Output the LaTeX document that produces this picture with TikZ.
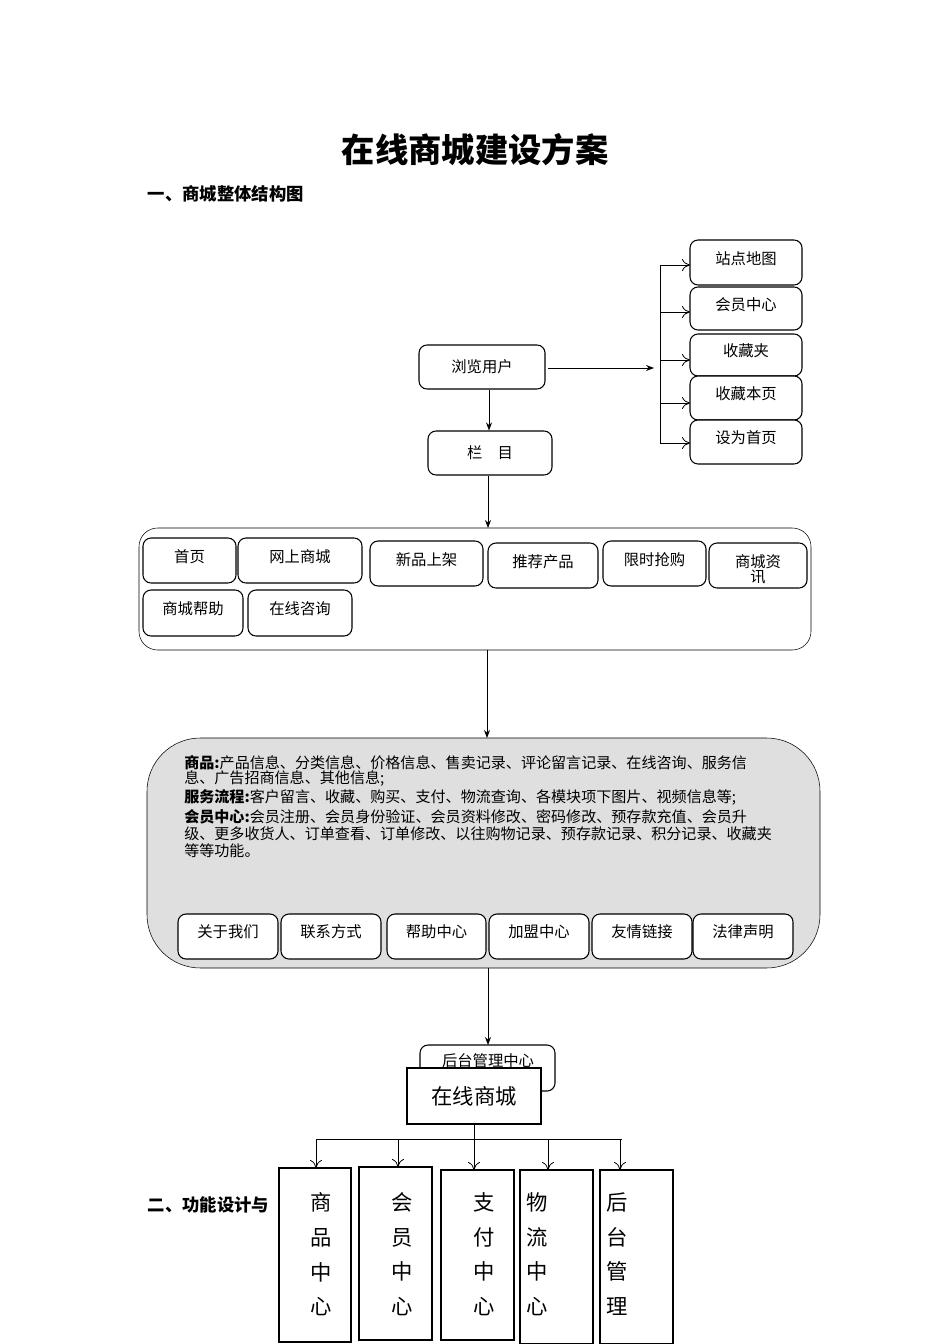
\documentclass[tikz,border=0pt]{standalone}
\usepackage{fontspec}
\setmainfont{Noto Sans CJK SC}
\usetikzlibrary{arrows.meta}
\begin{document}
\begin{tikzpicture}[x=0.75pt,y=-0.75pt,
 rb/.style={draw,rounded corners=6pt,thick,fill=white},
 lbl/.style={font=\fontsize{11.5}{13}\selectfont},
 ar/.style={-{Stealth[length=6pt]},semithick},
 op/.style={-{To[length=6pt,width=9pt]},semithick},
 big/.style={font=\fontsize{16}{26}\selectfont}]
\useasboundingbox (0,0) rectangle (950,1344);
\node[font=\bfseries\fontsize{25}{28}\selectfont] (title) at (475,150) {在线商城建设方案};
\node[font=\bfseries\fontsize{13}{15}\selectfont,anchor=west] (h1) at (143,194) {一、商城整体结构图};
% right boxes
\foreach \n/\t/\a/\b in {s1/站点地图/240/285,s2/会员中心/287/330,s3/收藏夹/334/376,s4/收藏本页/376/420,s5/设为首页/420/464}{
 \draw[rb] (690,\a) rectangle (802,\b);
 \node[lbl] (\n) at (746,{(\a+\b)/2-4}) {\t};
 \coordinate (\n w) at (690,{(\a+\b)/2});
}
\coordinate (bt) at (660,265); \coordinate (bb) at (660,443);
\draw[semithick] (bt) -- (bb);
\foreach \y/\n in {265/s1,312/s2,360/s3,403/s4,443/s5}{ \coordinate (c\n) at (660,\y); \draw[op] (c\n) -- (690,\y); }
\node[rb,draw,minimum width=126*0.75pt,minimum height=44*0.75pt,lbl] (user) at (482,367) {浏览用户};
\coordinate (bm) at (654,368);
\draw[ar] (548,368) -- (bm);
\node[rb,minimum width=124*0.75pt,minimum height=44*0.75pt,lbl] (lm) at (490,453) {栏\quad 目};
\draw[ar] (user.south -| 489,0) -- (lm.north -| 489,0);
% big rounded rect
\draw[rounded corners=14pt,thin] (139,528) rectangle (811,650);
\coordinate (bigtop) at (488,528);
\draw[ar] (lm.south -| 488,0) -- (bigtop);
\foreach \n/\t/\xa/\xb/\ya/\yb in {a1/首页/143/236/538/583,a2/网上商城/238/362/538/583,a3/新品上架/370/483/541/586,a4/推荐产品/488/598/543/588,a5/限时抢购/603/706/541/586,a7/商城帮助/143/243/590/636,a8/在线咨询/248/352/590/636}{
 \draw[rb] (\xa,\ya) rectangle (\xb,\yb);
 \node[lbl] (\n) at ({(\xa+\xb)/2},{\ya+19}) {\t};
}
\draw[rb] (709,543) rectangle (807,588);
\node[lbl,align=center,font=\fontsize{11.5}{11}\selectfont] (a6) at (758,569) {商城资\\讯};
% gray block
\draw[rounded corners=40pt,thin,fill=gray!25] (147,738) rectangle (820,968);
\coordinate (graytop) at (487,738);
\draw[ar] (487,650) -- (graytop);
\begin{scope}[every node/.style={anchor=west,font=\fontsize{11.3}{12}\selectfont,inner sep=0}]
\node (g1) at (184,763) {\textbf{商品:}产品信息、分类信息、价格信息、售卖记录、评论留言记录、在线咨询、服务信};
\node (g2) at (184,779) {息、广告招商信息、其他信息;};
\node (g3) at (184,797) {\textbf{服务流程:}客户留言、收藏、购买、支付、物流查询、各模块项下图片、视频信息等;};
\node (g4) at (184,817) {\textbf{会员中心:}会员注册、会员身份验证、会员资料修改、密码修改、预存款充值、会员升};
\node (g5) at (184,834) {级、更多收货人、订单查看、订单修改、以往购物记录、预存款记录、积分记录、收藏夹};
\node (g6) at (184,851) {等等功能。};
\end{scope}
\foreach \n/\t/\xa/\xb in {b1/关于我们/178/278,b2/联系方式/281/381,b3/帮助中心/387/486,b4/加盟中心/489/589,b5/友情链接/592/692,b6/法律声明/693/793}{
 \draw[rb] (\xa,914) rectangle (\xb,959);
 \node[lbl] (\n) at ({(\xa+\xb)/2},932) {\t};
}
% bottom
\draw[rb] (420,1045) rectangle (555,1091);
\node[lbl,anchor=north] (ht) at (488,1049) {后台管理中心};
\coordinate (httop) at (488,1045);
\draw[ar] (488,968) -- (httop);
\node[draw,thick,fill=white,minimum width=134*0.75pt,minimum height=56*0.75pt,font=\fontsize{16}{18}\selectfont] (zx) at (474,1096) {在线商城};
\coordinate (j) at (474,1139);
\draw[semithick] (zx.south) -- (j);
\draw[semithick] (316,1139) -- (622,1139);
\foreach \n/\xa/\xb/\ya/\yb/\ax/\tx/\tt in {v1/279/351/1168/1342/316/321/{商\\品\\中\\心},v2/359/432/1167/1340/398/402/{会\\员\\中\\心},v3/441/514/1170/1340/474/484/{支\\付\\中\\心},v4/520/593/1170/1344/548/537/{物\\流\\中\\心},v5/600/673/1170/1344/620/617/{后\\台\\管\\理}}{
 \draw[thick] (\xa,\ya) rectangle (\xb,\yb);
 \node[big,align=center,anchor=north] (\n) at (\tx,1188) {\tt};
 \draw[op] (\ax,1139) -- (\ax,\ya);
}
\node[font=\bfseries\fontsize{13}{15}\selectfont,anchor=west] (h2) at (143,1205) {二、功能设计与};
\end{tikzpicture}
\end{document}
